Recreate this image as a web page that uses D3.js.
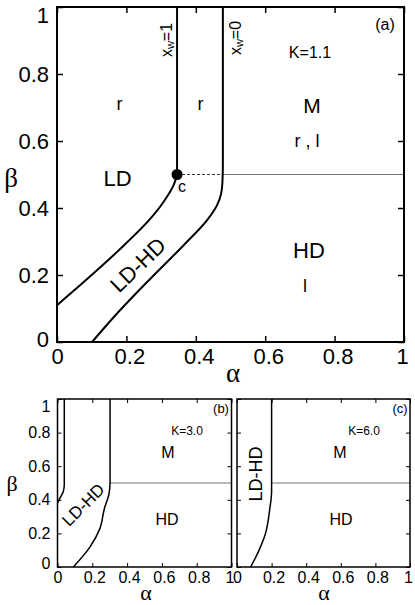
<!DOCTYPE html>
<html><head><meta charset="utf-8">
<script src="https://cdn.jsdelivr.net/npm/d3@7"></script>
<style>html,body{margin:0;padding:0;background:#fff;}svg{display:block;}</style>
</head><body>
<script>
// ---- data ----
const tickValues = [0, 0.2, 0.4, 0.6, 0.8, 1];
const tickLabels = ["0", "0.2", "0.4", "0.6", "0.8", "1"];

// panel (a), K=1.1  : [alpha, beta]
const aInnerCurve = [[0,0.11],[0.077,0.179],[0.173,0.269],[0.269,0.368],[0.307,0.418],[0.336,0.468],[0.346,0.5]];
const aXw1Line   = [[0.346,0.5],[0.346,1]];
const aOuterCurve = [[0.101,0],[0.173,0.085],[0.269,0.189],[0.365,0.289],[0.432,0.363],[0.461,0.408],[0.473,0.443],[0.477,0.483],[0.478,0.53],[0.478,1]];
const aCritical = [0.346, 0.5];
const aDashed = [[0.346,0.5],[0.478,0.5]];
const aMHD = [[0.478,0.5],[1,0.5]];

// panel (b), K=3.0
const bInnerCurve = [[0,0.38],[0.014,0.41],[0.033,0.448],[0.039,0.49],[0.039,0.53],[0.039,1]];
const bOuterCurve = [[0.091,0],[0.187,0.12],[0.244,0.23],[0.27,0.35],[0.295,0.43],[0.302,0.5],[0.302,0.55],[0.302,1]];
const bMHD = [[0.302,0.5],[1,0.5]];

// panel (c), K=6.0
const cOuterCurve = [[0.079,0],[0.123,0.09],[0.162,0.19],[0.19,0.35],[0.2,0.45],[0.2,0.5],[0.2,0.55],[0.2,1]];
const cMHD = [[0.2,0.5],[1,0.5]];

const SANS = "'Liberation Sans', Arial, Helvetica, sans-serif";
const SERIF = "'Liberation Serif', 'Times New Roman', serif";

const svg = d3.select("body").append("svg").attr("width",415).attr("height",605);

function makePanel(o){
  const g = svg.append("g");
  const x = d3.scaleLinear([0,1],[o.L,o.R]);
  const y = d3.scaleLinear([0,1],[o.B,o.T]);
  const fmt = (d,i)=>tickLabels[i];
  const bx = g.append("g").attr("transform",`translate(0,${o.B})`)
    .call(d3.axisBottom(x).tickValues(tickValues).tickFormat(o.xLabels?fmt:"").tickSizeInner(-o.tl).tickSizeOuter(0).tickPadding(o.xpad));
  const tx = g.append("g").attr("transform",`translate(0,${o.T})`)
    .call(d3.axisTop(x).tickValues(tickValues).tickFormat("").tickSizeInner(-o.tl).tickSizeOuter(0));
  const ly = g.append("g").attr("transform",`translate(${o.L},0)`)
    .call(d3.axisLeft(y).tickValues(tickValues).tickFormat(o.yLabels?fmt:"").tickSizeInner(-o.tl).tickSizeOuter(0).tickPadding(o.ypad));
  const ry = g.append("g").attr("transform",`translate(${o.R},0)`)
    .call(d3.axisRight(y).tickValues(tickValues).tickFormat("").tickSizeInner(-o.tl).tickSizeOuter(0));
  [bx,tx,ly,ry].forEach(a=>{
    a.select(".domain").remove();
    a.selectAll(".tick line").attr("stroke","#000").attr("stroke-width",o.tw);
    a.selectAll("text").attr("font-family",SANS).attr("font-size",o.fs).attr("fill","#000");
  });
  bx.selectAll(".tick text").attr("dx",(d)=> (d>0 && d<1) ? o.xdx : (d===1? o.x1dx : 0));
  ly.selectAll(".tick text").attr("dy",(d)=> d===1 ? o.y1dy : (d===0 ? o.y0dy : "0.32em"));
  return {g,x,y};
}

function line(p, pts, curve, attrs){
  const gen = d3.line().x(d=>p.x(d[0])).y(d=>p.y(d[1]));
  if(curve) gen.curve(curve);
  const path = p.g.append("path").datum(pts).attr("d",gen).attr("fill","none");
  for(const k in attrs) path.attr(k, attrs[k]);
  return path;
}
function frame(p,o){
  p.g.append("rect").attr("x",o.L).attr("y",o.T).attr("width",o.R-o.L).attr("height",o.B-o.T)
    .attr("fill","none").attr("stroke","#000").attr("stroke-width",o.fw);
}
function label(p, txt, xx, yy, size, extra){
  const t = p.g.append("text").attr("x",xx).attr("y",yy).attr("font-family",(extra&&extra.serif)?SERIF:SANS)
    .attr("font-size",size).attr("text-anchor","middle").attr("fill","#000").text(txt);
  if(extra && extra.rot!==undefined){ t.attr("transform",`rotate(${extra.rot},${xx},${yy})`); }
  if(extra && extra.central){ t.attr("dominant-baseline","central"); }
  return t;
}

// ---- panel (a) ----
const oA = {L:57,R:404,T:7,B:342,tl:6,tw:1.5,fw:2,fs:22,xpad:6,ypad:8,xLabels:true,yLabels:true,xdx:3,x1dx:-2,y1dy:"0.72em",y0dy:"0.2em"};
const pA = makePanel(oA);
line(pA, aMHD, null, {stroke:"#777","stroke-width":1});
line(pA, aDashed, null, {stroke:"#000","stroke-width":0.8,"stroke-dasharray":"3,2"});
line(pA, aInnerCurve, d3.curveMonotoneY, {stroke:"#000","stroke-width":2});
line(pA, aXw1Line, null, {stroke:"#000","stroke-width":2});
line(pA, aOuterCurve, d3.curveMonotoneY, {stroke:"#000","stroke-width":2});
pA.g.append("circle").attr("cx",pA.x(aCritical[0])).attr("cy",pA.y(aCritical[1])).attr("r",5.5).attr("fill","#000");
frame(pA,oA);
label(pA,"LD",117.5,186,22);
label(pA,"r",119.5,110,18);
label(pA,"r",200.5,110,18);
label(pA,"M",312,113,21);
label(pA,"r , l",307,147,18);
label(pA,"K=1.1",310,58,16);
label(pA,"(a)",385,30,16);
label(pA,"c",182,192,16);
label(pA,"HD",309,258,22);
label(pA,"l",305,292,18);
label(pA,"LD-HD",138,265,22,{rot:-44,central:true});
function xw(p, val, cx, cy){
  const t = p.g.append("text").attr("x",cx).attr("y",cy).attr("font-family",SANS).attr("font-size",16)
    .attr("text-anchor","middle").attr("dominant-baseline","central").attr("fill","#000")
    .attr("transform",`rotate(-90,${cx},${cy})`);
  t.append("tspan").text("x");
  t.append("tspan").attr("font-size",11).attr("dy",4).text("w");
  t.append("tspan").attr("dy",-4).text("="+val);
}
xw(pA,"1",166,40);
xw(pA,"0",235,38);
label(pA,"β",11,178,27,{serif:true,central:true});
label(pA,"α",233,382,27,{serif:true});

// ---- panel (b) ----
const oB = {L:57.5,R:231.5,T:399,B:567,tl:4,tw:1,fw:1.5,fs:16,xpad:5,ypad:7,xLabels:true,yLabels:true,xdx:2,x1dx:-2,y1dy:"0.8em",y0dy:"0.1em"};
const pB = makePanel(oB);
line(pB, bMHD, null, {stroke:"#777","stroke-width":1});
line(pB, bInnerCurve, d3.curveMonotoneY, {stroke:"#000","stroke-width":1.5});
line(pB, bOuterCurve, d3.curveMonotoneY, {stroke:"#000","stroke-width":1.5});
frame(pB,oB);
label(pB,"LD-HD",83.5,505,17,{rot:-45,central:true});
label(pB,"K=3.0",187,435,12);
label(pB,"M",168,458,16);
label(pB,"HD",167,525,16);
label(pB,"(b)",221,413,13);
label(pB,"β",12,483,22,{serif:true,central:true});
label(pB,"α",146,600,22,{serif:true});

// ---- panel (c) ----
const oC = {L:237,R:410,T:399,B:567,tl:4,tw:1,fw:1.5,fs:16,xpad:5,ypad:7,xLabels:true,yLabels:false,xdx:2,x1dx:-2,y1dy:"0.8em",y0dy:"0.1em"};
const pC = makePanel(oC);
line(pC, cMHD, null, {stroke:"#777","stroke-width":1});
line(pC, cOuterCurve, d3.curveMonotoneY, {stroke:"#000","stroke-width":1.5});
frame(pC,oC);
label(pC,"LD-HD",256,474,18,{rot:-90,central:true});
label(pC,"K=6.0",364,435,12);
label(pC,"M",340,458,16);
label(pC,"HD",341,525,16);
label(pC,"(c)",400,413,13);
label(pC,"α",324,600,22,{serif:true});
</script>
</body></html>
